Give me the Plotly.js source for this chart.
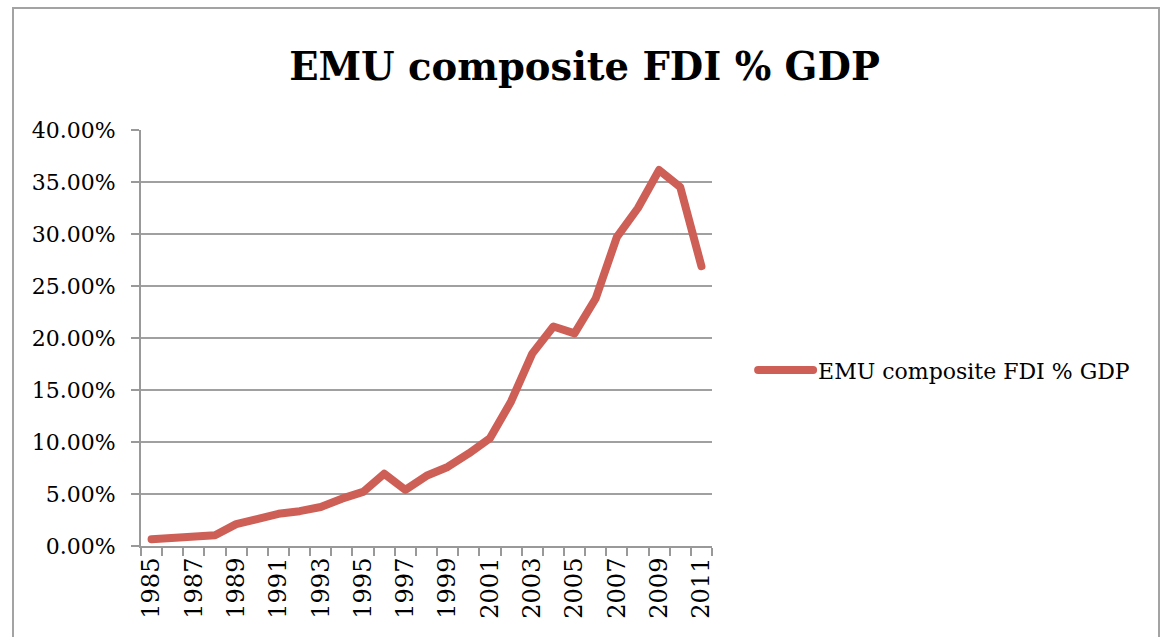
<!DOCTYPE html>
<html>
<head>
<meta charset="utf-8">
<script src="https://cdn.plot.ly/plotly-3.0.1.min.js"></script>
<style>
  html, body { margin: 0; padding: 0; background: #fff; overflow: hidden; }
  #wrap { position: relative; width: 1162px; height: 637px; overflow: hidden; }
  #frame { position: absolute; left: 12px; top: 7px; width: 1148px; height: 700px;
           border: 2px solid #a3a3a3; box-sizing: border-box; pointer-events: none; }
  #chart { position: absolute; left: 0; top: 0; width: 1162px; height: 637px; }
  .scatterlayer path.js-line, .legendlines path { stroke-linejoin: round; stroke-linecap: round; }
</style>
</head>
<body>
<div id="wrap">
  <div id="chart"></div>
  <div id="frame"></div>
</div>
<script>
// Data
const years = [1985, 1986, 1987, 1988, 1989, 1990, 1991, 1992, 1993, 1994, 1995, 1996, 1997, 1998,
               1999, 2000, 2001, 2002, 2003, 2004, 2005, 2006, 2007, 2008, 2009, 2010, 2011];
const fdiShareOfGdp = [0.0064, 0.0078, 0.0103, 0.0103, 0.0210, 0.0270, 0.0310, 0.0335, 0.0375, 0.0455,
                       0.0520, 0.0695, 0.0540, 0.0675, 0.0760, 0.0890, 0.1035, 0.1390, 0.1850, 0.2110,
                       0.2045, 0.2380, 0.2970, 0.3250, 0.3615, 0.3450, 0.2690];
const seriesName = "EMU composite FDI % GDP";
const chartTitle = "EMU composite FDI % GDP";
const labelYears = [1985, 1987, 1989, 1991, 1993, 1995, 1997, 1999, 2001, 2003, 2005, 2007, 2009, 2011];
const yTicks = [0, 0.05, 0.10, 0.15, 0.20, 0.25, 0.30, 0.35, 0.40];

const serif = "DejaVu Serif, Liberation Serif, serif";

const trace = {
  x: years,
  y: fdiShareOfGdp,
  type: "scatter",
  mode: "lines",
  name: seriesName,
  line: { color: "#cd5f57", width: 8 },
  hoverinfo: "skip"
};

const layout = {
  width: 1162,
  height: 637,
  paper_bgcolor: "rgba(0,0,0,0)",
  plot_bgcolor: "rgba(0,0,0,0)",
  margin: { l: 141, r: 450, t: 130, b: 91, pad: 0 },
  title: {
    text: "<b>" + chartTitle + "</b>",
    font: { family: serif, size: 38.5, color: "#000" },
    xref: "container", x: 0.503, xanchor: "center",
    yref: "container", y: 1 - 67 / 637, yanchor: "middle"
  },
  showlegend: true,
  legend: {
    x: 1.072, xanchor: "left",
    y: 0.4227, yanchor: "middle",
    font: { family: serif, size: 22, color: "#000" },
    bgcolor: "rgba(0,0,0,0)",
    itemwidth: 55
  },
  xaxis: {
    range: [1984.5, 2011.5],
    tickmode: "array",
    tickvals: labelYears,
    ticktext: labelYears.map(String),
    tickangle: -90,
    ticks: "",
    tickfont: { family: serif, size: 24, color: "#000" },
    showgrid: false,
    zeroline: false,
    showline: true,
    linecolor: "#999",
    linewidth: 2,
    minor: { ticks: "outside", tick0: 1984.5, dtick: 1, ticklen: 8, tickwidth: 2, tickcolor: "#999", showgrid: false },
    fixedrange: true
  },
  yaxis: {
    range: [0, 0.40],
    tickmode: "array",
    tickvals: yTicks,
    tickformat: ".2%",
    ticks: "outside",
    ticklen: 8,
    tickwidth: 2,
    tickcolor: "#999",
    ticklabelstandoff: 11,
    tickfont: { family: serif, size: 22, color: "#000" },
    showgrid: true,
    gridcolor: "#a0a0a0",
    gridwidth: 2,
    zeroline: false,
    showline: true,
    linecolor: "#999",
    linewidth: 2,
    fixedrange: true
  }
};

Plotly.newPlot("chart", [trace], layout, { displayModeBar: false, staticPlot: true });
</script>
</body>
</html>
